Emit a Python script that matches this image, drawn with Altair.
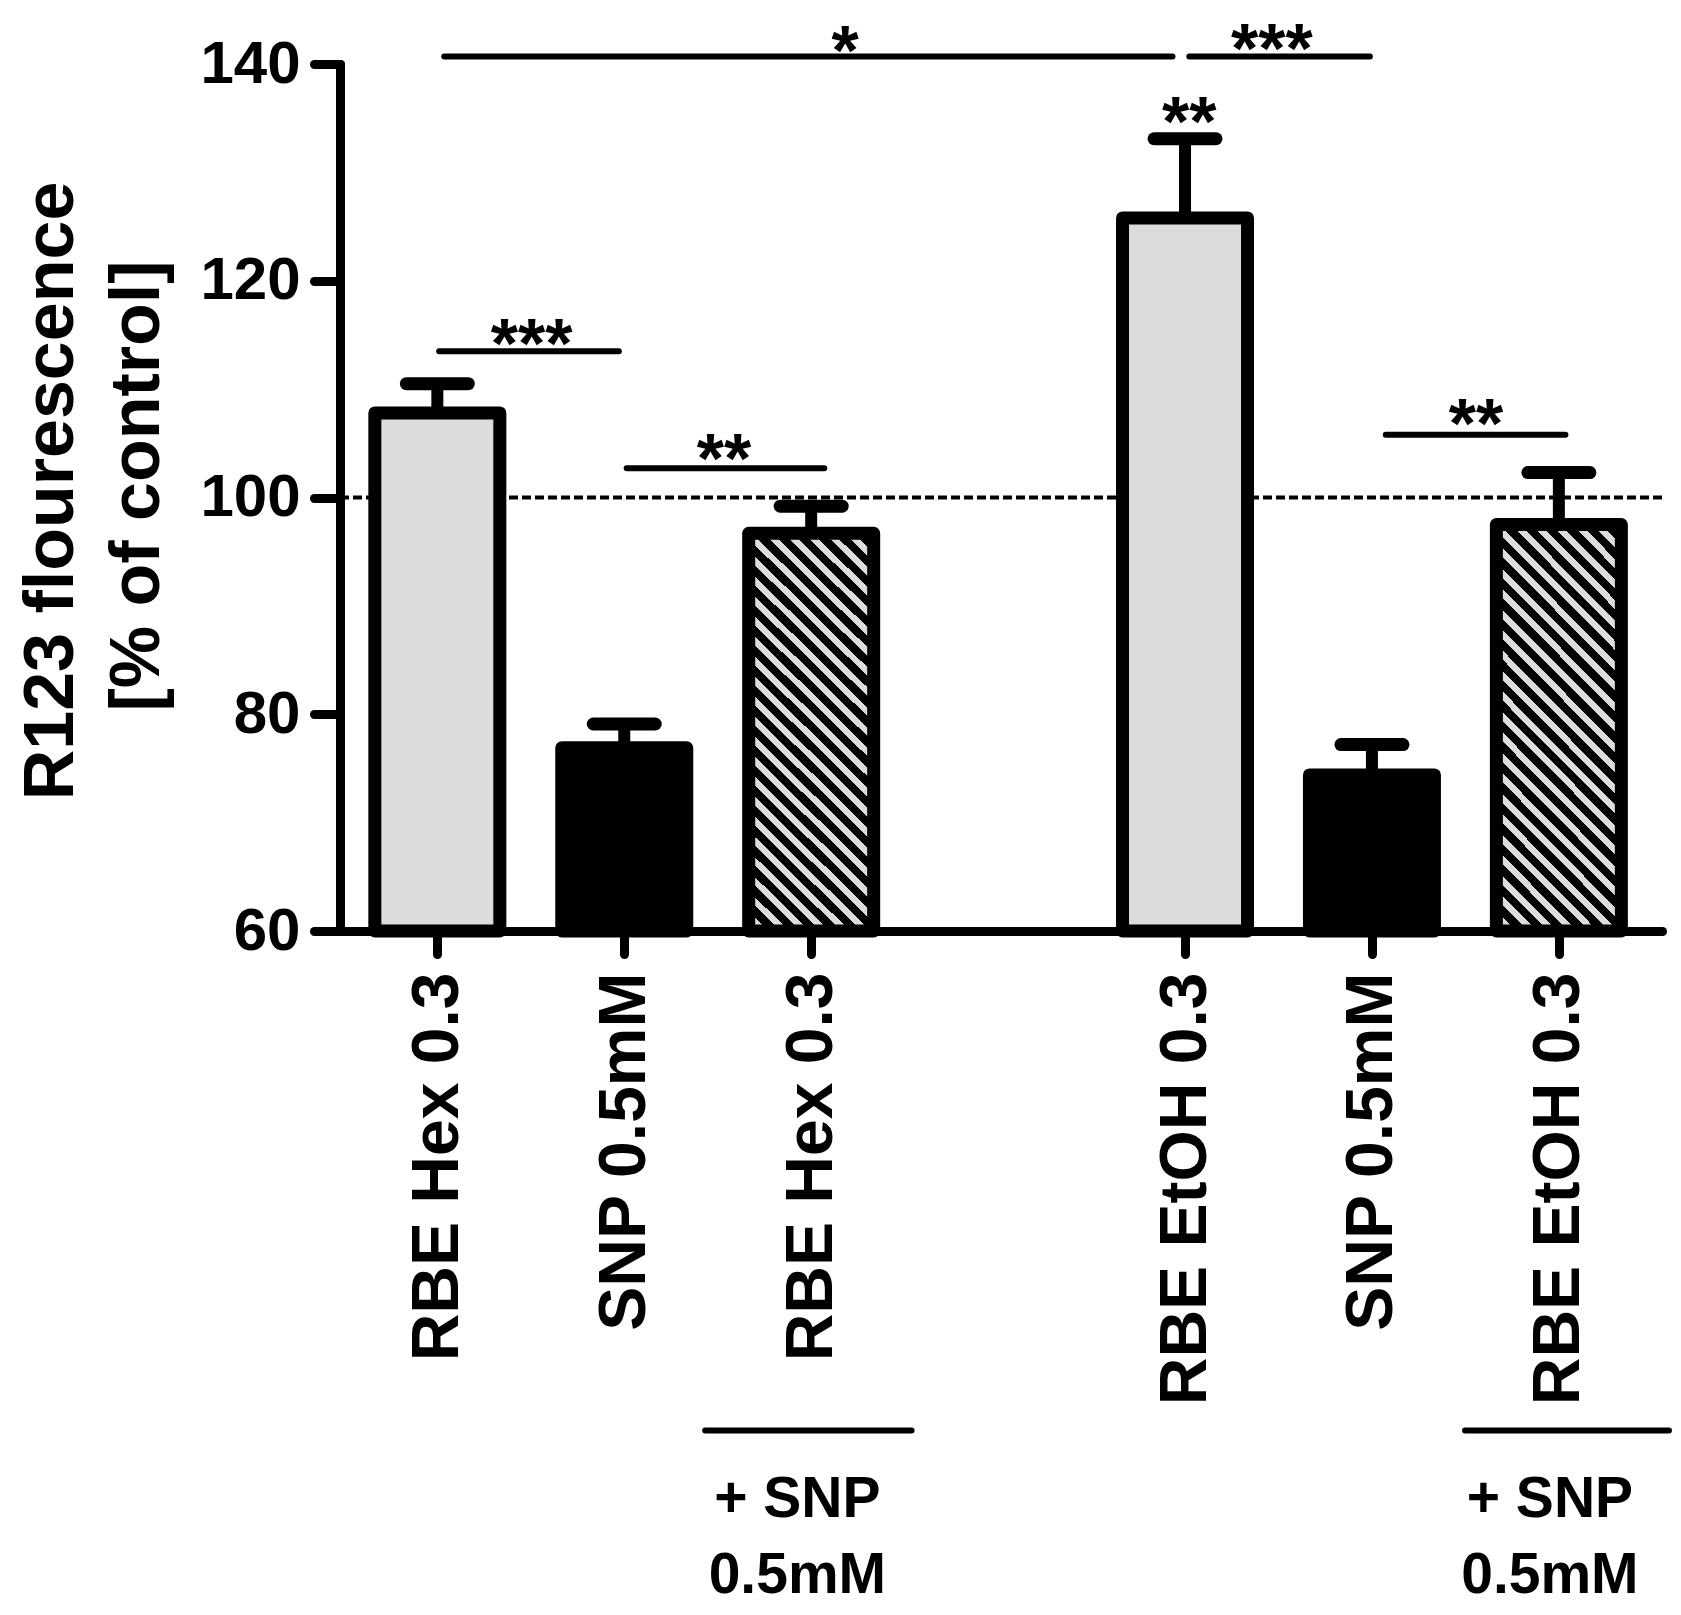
import altair as alt
import pandas as pd

# ---------------- data ----------------
categories = ["RBE Hex 0.3", "SNP 0.5mM", "RBE Hex 0.3", "RBE EtOH 0.3", "SNP 0.5mM", "RBE EtOH 0.3"]
slots = [1, 2, 3, 5, 6, 7]
kinds = ["extract", "snp", "combo", "extract", "snp", "combo"]
means = [107.8, 76.9, 96.7, 125.8, 74.4, 97.5]
upper = [110.5, 79.1, 99.2, 133.1, 77.2, 102.3]

sig_x1 = [1.037, 5.023, 1.010, 2.013, 6.074]
sig_x2 = [4.933, 5.989, 1.971, 3.070, 7.035]
sig_y = [140.7, 140.7, 113.5, 102.7, 105.8]

star_text = ["*", "***", "***", "**", "**", "**"]
star_x = [3.181, 5.464, 1.504, 2.534, 6.557, 5.023]
star_y = [142.7, 142.9, 115.6, 105.0, 108.3, 136.1]

combo_line_x1 = [2.433, 6.498]
combo_line_x2 = [3.537, 7.589]
combo_line_y = [13.9, 13.9]
combo_text = ["+ SNP\n0.5mM", "+ SNP\n0.5mM"]
combo_text_x = [2.926, 6.952]
combo_text_y = [5.94, 5.94]

y_title = ["R123 flourescence", "[% of control]"]
y_ticks = [60, 80, 100, 120, 140]
control_level = [100]

FONT = "Liberation Sans, Arial, Helvetica, sans-serif"

bars = pd.DataFrame({"slot": slots, "label": categories, "kind": kinds,
                     "mean": means, "upper": upper})
sig = pd.DataFrame({"x1": sig_x1, "x2": sig_x2, "y": sig_y})
stars = pd.DataFrame({"t": star_text, "x": star_x, "y": star_y})
cl = pd.DataFrame({"x1": combo_line_x1, "x2": combo_line_x2, "y": combo_line_y})
ct = pd.DataFrame({"t": combo_text, "x": combo_text_x, "y": combo_text_y})
ctrl = pd.DataFrame({"v": control_level})

XS = alt.Scale(domain=[0.506, 7.525], nice=False, zero=False)
YS = alt.Scale(domain=[60, 140], nice=False, zero=False)

label_expr = " : ".join(
    f"datum.value == {s} ? '{c}'" for s, c in zip(slots, categories)
) + " : ''"

xaxis = alt.Axis(values=slots, labelExpr=label_expr, title=None, grid=False,
                 labelAngle=270, labelAlign="right", labelBaseline="middle",
                 labelFont=FONT, labelFontSize=66, labelFontWeight="bold",
                 labelColor="black", labelPadding=18, labelLimit=2000,
                 tickSize=23, tickWidth=9,
                 tickColor="black", tickCap="round", domainWidth=9,
                 domainColor="black", domainCap="round", labelOverlap=False,
                 labelFlush=False)
yaxis = alt.Axis(values=y_ticks, title=None, grid=False, labelFont=FONT,
                 labelFontSize=60, labelFontWeight="bold", labelColor="black",
                 labelPadding=14, tickSize=26, tickWidth=9, tickColor="black",
                 tickCap="round", domainWidth=9, domainColor="black",
                 domainCap="round", labelOverlap=False, labelFlush=False)

# hatch pattern as a striped linear gradient (stripes run top-left -> bottom-right)
N = 26
BLACK_FRAC = 0.56
stops = []
for i in range(N):
    stops += [alt.GradientStop(offset=i / N, color="#000000"),
              alt.GradientStop(offset=(i + BLACK_FRAC) / N, color="#000000"),
              alt.GradientStop(offset=(i + BLACK_FRAC) / N, color="#dcdcdc"),
              alt.GradientStop(offset=(i + 1) / N, color="#dcdcdc")]
hatch = alt.LinearGradient(gradient="linear", stops=stops,
                           x1=0, y1=1, x2=0.3707, y2=-0.1953)

base = alt.Chart(bars)

control = alt.Chart(ctrl).mark_rule(strokeDash=[9, 4], strokeWidth=4, color="black").encode(
    y=alt.Y("v:Q", scale=YS)
)

stems = base.mark_rule(strokeWidth=12, color="black").encode(
    x=alt.X("slot:Q", scale=XS, axis=xaxis),
    y=alt.Y("mean:Q", scale=YS, axis=yaxis),
    y2="upper:Q",
)

caps = base.mark_rule(strokeWidth=13, color="black", strokeCap="round",
                      xOffset=-31, x2Offset=31).encode(
    x=alt.X("slot:Q", scale=XS),
    x2="slot:Q",
    y=alt.Y("upper:Q", scale=YS),
)

bar_common = dict(width=125, stroke="black", strokeWidth=13, strokeJoin="round")

bars_extract = base.transform_filter(alt.datum.kind == "extract").mark_bar(
    fill="#dcdcdc", **bar_common).encode(
    x=alt.X("slot:Q", scale=XS), y=alt.Y("mean:Q", scale=YS), y2=alt.datum(60))
bars_snp = base.transform_filter(alt.datum.kind == "snp").mark_bar(
    fill="black", **bar_common).encode(
    x=alt.X("slot:Q", scale=XS), y=alt.Y("mean:Q", scale=YS), y2=alt.datum(60))
bars_combo = base.transform_filter(alt.datum.kind == "combo").mark_bar(
    fill=hatch, **bar_common).encode(
    x=alt.X("slot:Q", scale=XS), y=alt.Y("mean:Q", scale=YS), y2=alt.datum(60))

sig_lines = alt.Chart(sig).mark_rule(strokeWidth=6, color="black", strokeCap="round").encode(
    x=alt.X("x1:Q", scale=XS), x2="x2:Q", y=alt.Y("y:Q", scale=YS))

star_marks = alt.Chart(stars).mark_text(font=FONT, fontSize=70, fontWeight="bold",
                                        baseline="alphabetic", align="center", dy=40,
                                        color="black").encode(
    x=alt.X("x:Q", scale=XS), y=alt.Y("y:Q", scale=YS), text="t:N")

combo_lines = alt.Chart(cl).mark_rule(strokeWidth=6, color="black", strokeCap="round").encode(
    x=alt.X("x1:Q", scale=XS), x2="x2:Q", y=alt.Y("y:Q", scale=YS))

combo_labels = alt.Chart(ct).mark_text(font=FONT, fontSize=57, fontWeight="bold",
                                       baseline="alphabetic", align="center",
                                       lineBreak="\n", lineHeight=76,
                                       color="black").encode(
    x=alt.X("x:Q", scale=XS), y=alt.Y("y:Q", scale=YS), text="t:N")

title1 = alt.Chart(pd.DataFrame({"t": [y_title[0]]})).mark_text(
    font=FONT, fontSize=70, fontWeight="bold", angle=270, align="center",
    baseline="alphabetic", color="black").encode(
    x=alt.value(-267), y=alt.value(427), text="t:N")
title2 = alt.Chart(pd.DataFrame({"t": [y_title[1]]})).mark_text(
    font=FONT, fontSize=70, fontWeight="bold", angle=270, align="center",
    baseline="alphabetic", color="black").encode(
    x=alt.value(-181), y=alt.value(422), text="t:N")

chart = alt.layer(
    control, stems, bars_extract, bars_snp, bars_combo, caps,
    sig_lines, star_marks, combo_lines, combo_labels, title1, title2
).properties(
    width=1322, height=867,
    padding={"left": 332, "top": 56, "right": 10, "bottom": 676},
    autosize=alt.AutoSizeParams(type="none"),
    view=alt.ViewBackground(stroke="transparent", strokeWidth=0),
).configure_view(strokeWidth=0, stroke="transparent").configure(background="white")

chart.save("out.html", embed_options={"renderer": "svg", "actions": False})
